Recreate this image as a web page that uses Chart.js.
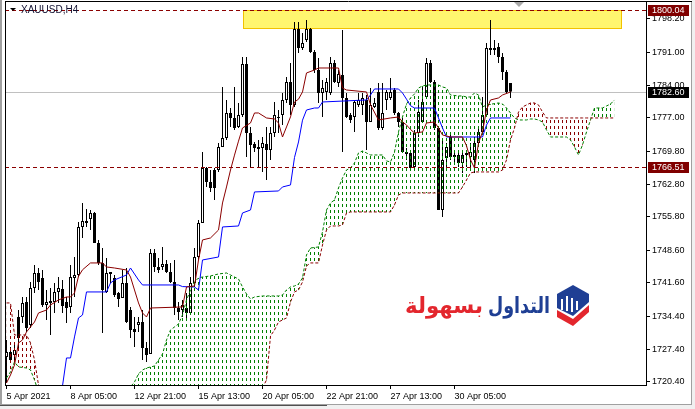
<!DOCTYPE html>
<html lang="en">
<head>
<meta charset="UTF-8">
<title>XAUUSD,H4</title>
<script src="https://cdn.jsdelivr.net/npm/chart.js"></script>
<style>
  html, body { margin: 0; padding: 0; background: #fff; }
  canvas { display: block; }
</style>
</head>
<body>
<canvas id="chart" width="695" height="409" style="width:695px;height:409px"></canvas>
<script>
// time axis: bar index of each label
const timeTickBars = [0, 16, 32, 48, 64, 80, 96, 112];
const timeLabels = ['5 Apr 2021', '8 Apr 05:00', '12 Apr 21:00', '15 Apr 13:00',
                    '20 Apr 05:00', '22 Apr 21:00', '27 Apr 13:00', '30 Apr 05:00'];
const priceTicks = [1798.20, 1791.00, 1784.00, 1777.00, 1769.80, 1762.80,
                    1755.80, 1748.60, 1741.60, 1734.40, 1727.40, 1720.40];
const yMin = 1719.69, yMax = 1802.06;

// H4 candles
const open = [
  1725.70, 1726.78, 1726.13, 1734.28, 1734.28, 1737.50, 1732.57, 1740.50, 1743.72, 1742.65,
  1736.86, 1737.72, 1737.50, 1739.65, 1740.29, 1737.50, 1736.43, 1742.65, 1743.29, 1753.59,
  1754.88, 1755.30, 1756.59, 1750.16, 1745.87, 1739.65, 1743.51, 1742.65, 1739.43, 1738.36,
  1741.58, 1735.78, 1731.71, 1732.57, 1733.21, 1727.63, 1726.35, 1748.01, 1745.01, 1745.01,
  1745.65, 1743.94, 1741.79, 1736.21, 1735.78, 1736.21, 1735.14, 1741.58, 1747.15, 1754.45,
  1766.24, 1763.24, 1765.81, 1765.81, 1770.75, 1772.68, 1778.04, 1776.97, 1775.04, 1777.61,
  1788.55, 1773.75, 1771.39, 1770.75, 1770.53, 1771.39, 1770.10, 1773.75, 1776.97, 1777.61,
  1780.83, 1784.69, 1779.76, 1796.06, 1791.98, 1793.70, 1796.06, 1791.13, 1787.26, 1782.33,
  1782.55, 1782.33, 1788.77, 1784.48, 1786.19, 1781.26, 1777.61, 1777.18, 1779.76, 1779.76,
  1780.83, 1776.11, 1779.33, 1782.55, 1774.82, 1780.83, 1781.26, 1782.97, 1778.04, 1776.11,
  1769.68, 1769.46, 1766.46, 1773.75, 1776.11, 1781.47, 1788.77, 1784.69, 1774.82, 1757.23,
  1768.39, 1772.89, 1769.03, 1769.03, 1767.32, 1769.03, 1768.60, 1767.96, 1771.61, 1773.97,
  1777.61, 1791.98, 1791.55, 1792.20, 1790.05, 1786.84, 1784.48
];
const high = [
  1729.35, 1727.85, 1728.28, 1735.78, 1738.57, 1738.57, 1741.79, 1745.44, 1744.79, 1744.36,
  1740.07, 1740.50, 1741.58, 1742.86, 1742.22, 1738.57, 1745.44, 1747.15, 1754.66, 1758.74,
  1757.45, 1757.23, 1756.81, 1750.80, 1749.08, 1746.94, 1743.94, 1743.29, 1739.65, 1744.36,
  1744.79, 1736.43, 1734.28, 1734.28, 1735.78, 1728.92, 1748.87, 1748.87, 1746.94, 1749.30,
  1746.51, 1745.87, 1746.51, 1737.50, 1737.93, 1739.43, 1742.86, 1749.08, 1755.09, 1769.68,
  1766.46, 1765.81, 1766.24, 1771.61, 1783.62, 1780.83, 1779.11, 1783.62, 1780.19, 1790.05,
  1790.05, 1775.04, 1771.82, 1772.25, 1772.89, 1775.04, 1775.04, 1780.40, 1778.68, 1782.33,
  1785.76, 1788.77, 1797.56, 1797.56, 1795.20, 1797.99, 1796.27, 1791.55, 1789.84, 1785.12,
  1785.55, 1790.05, 1789.41, 1787.26, 1795.84, 1782.33, 1778.04, 1780.83, 1782.33, 1782.33,
  1781.90, 1783.40, 1781.26, 1784.48, 1784.48, 1782.97, 1785.55, 1783.40, 1778.26, 1776.97,
  1770.53, 1770.10, 1774.39, 1780.83, 1783.62, 1789.84, 1789.41, 1785.12, 1775.04, 1772.25,
  1771.61, 1773.75, 1769.68, 1769.68, 1769.68, 1770.10, 1771.61, 1772.89, 1775.04, 1781.47,
  1793.06, 1797.99, 1793.70, 1793.06, 1790.91, 1787.26, 1784.48
];
const low = [
  1720.13, 1724.42, 1725.06, 1727.20, 1733.00, 1731.07, 1731.92, 1739.43, 1740.07, 1736.43,
  1733.64, 1730.42, 1735.14, 1737.29, 1735.14, 1733.00, 1735.14, 1738.57, 1742.86, 1751.23,
  1753.59, 1752.94, 1750.16, 1745.44, 1730.85, 1739.43, 1741.58, 1738.57, 1736.43, 1738.36,
  1733.00, 1729.78, 1727.85, 1731.07, 1725.06, 1724.63, 1726.35, 1743.94, 1743.72, 1744.36,
  1743.72, 1741.58, 1734.71, 1733.64, 1734.28, 1733.64, 1735.14, 1740.72, 1746.51, 1754.45,
  1762.17, 1761.10, 1759.38, 1765.39, 1770.75, 1772.25, 1775.04, 1774.39, 1774.82, 1777.18,
  1768.60, 1766.46, 1769.68, 1766.46, 1765.39, 1763.67, 1767.96, 1772.89, 1773.75, 1775.47,
  1780.19, 1777.61, 1779.33, 1790.91, 1791.55, 1793.27, 1790.91, 1786.62, 1780.19, 1777.18,
  1780.83, 1781.90, 1784.48, 1783.62, 1769.68, 1776.97, 1775.90, 1773.97, 1779.33, 1777.61,
  1770.10, 1776.11, 1779.11, 1774.39, 1774.39, 1778.68, 1780.83, 1777.61, 1775.04, 1769.46,
  1767.96, 1766.24, 1766.24, 1772.89, 1775.90, 1781.26, 1784.48, 1774.39, 1757.23, 1755.73,
  1766.24, 1767.96, 1767.32, 1766.46, 1765.17, 1766.46, 1766.24, 1765.17, 1770.75, 1773.75,
  1777.18, 1790.48, 1790.48, 1788.77, 1785.12, 1782.33, 1781.26
];
const close = [
  1726.78, 1725.06, 1727.20, 1729.78, 1737.29, 1731.92, 1740.50, 1743.72, 1741.79, 1736.86,
  1737.50, 1737.29, 1739.65, 1740.50, 1736.64, 1736.21, 1742.86, 1743.29, 1753.59, 1754.88,
  1754.45, 1756.59, 1750.16, 1745.87, 1740.07, 1743.72, 1743.94, 1739.00, 1738.14, 1741.58,
  1733.21, 1731.49, 1731.07, 1733.21, 1727.63, 1726.13, 1748.01, 1745.01, 1744.36, 1745.65,
  1743.94, 1741.79, 1736.21, 1735.36, 1736.86, 1735.14, 1741.58, 1747.15, 1754.45, 1766.24,
  1763.24, 1761.95, 1761.95, 1770.75, 1772.68, 1778.04, 1776.97, 1774.82, 1777.61, 1788.55,
  1773.75, 1771.18, 1770.53, 1770.32, 1771.61, 1770.10, 1773.75, 1777.61, 1777.18, 1780.83,
  1784.69, 1779.76, 1796.06, 1791.98, 1793.06, 1796.06, 1791.13, 1787.26, 1782.33, 1783.40,
  1784.69, 1788.77, 1784.69, 1786.41, 1781.26, 1777.18, 1776.54, 1780.40, 1780.83, 1781.26,
  1776.11, 1779.76, 1780.19, 1774.82, 1778.04, 1782.55, 1782.55, 1778.04, 1776.11, 1769.68,
  1769.25, 1766.24, 1773.75, 1778.26, 1780.40, 1788.77, 1784.69, 1774.82, 1757.23, 1767.96,
  1770.75, 1768.60, 1768.60, 1767.32, 1769.03, 1769.46, 1769.68, 1771.61, 1773.97, 1777.61,
  1791.98, 1791.55, 1791.98, 1790.05, 1786.84, 1782.55, 1782.60
];

// Ichimoku: tenkan-sen (dark red) and kijun-sen (blue)
const tenkanBars = [0,1,2,3,4,5,7,8,10,11,13,15,16,17,18,19,21,24,25,27,30,31,32,33,34,35,36,44,45,47,48,49,51,53,54,55,56,57,58,59,61,62,63,65,67,68,69,70,71,72,73,74,75,77,78,83,84,85,90,91,93,96,98,99,100,101,102,104,105,107,108,109,111,114,115,116,117,118,119,120,121,123,124,126];
const tenkan = [1720.13,1721.84,1723.99,1728.71,1729.35,1731.07,1733.21,1735.14,1735.78,1736.86,1737.93,1738.57,1738.57,1739.43,1743.00,1744.40,1745.87,1745.87,1745.01,1744.79,1744.36,1742.86,1740.07,1737.29,1735.14,1734.28,1736.21,1736.43,1740.72,1740.93,1746.50,1750.80,1751.23,1752.94,1758.74,1762.17,1765.81,1769.00,1772.00,1774.82,1775.90,1778.04,1778.04,1776.97,1776.75,1775.90,1772.89,1775.04,1777.20,1780.40,1781.00,1782.55,1786.62,1787.26,1787.69,1787.69,1783.40,1782.97,1782.55,1779.80,1776.54,1776.97,1777.18,1776.11,1775.47,1774.50,1773.75,1773.97,1775.90,1776.11,1774.82,1773.32,1772.89,1772.89,1771.00,1768.00,1766.24,1771.61,1773.97,1778.68,1780.83,1781.26,1781.90,1782.55];
const kijunBars = [13,14,15,16,17,18,19,20,25,26,27,30,31,32,33,34,43,44,47,48,49,53,54,58,59,61,62,68,69,71,72,73,74,75,77,78,79,90,91,92,98,99,100,101,102,107,108,109,110,119,120,121,126];
const kijun = [1717.00,1719.50,1725.49,1725.49,1730.00,1734.07,1734.71,1739.65,1739.65,1741.58,1742.22,1743.29,1744.79,1743.50,1742.22,1741.15,1741.15,1740.80,1740.72,1740.07,1746.51,1747.15,1753.59,1753.80,1756.59,1757.23,1761.10,1761.31,1762.17,1762.60,1768.50,1771.82,1776.50,1778.68,1779.11,1779.11,1780.40,1780.83,1781.90,1783.19,1783.19,1782.33,1781.00,1779.60,1779.11,1779.11,1776.97,1774.82,1772.89,1772.89,1775.47,1776.97,1776.97];

// cloud (senkou span A / B), shifted 26 bars ahead
const cloudBars = [0,1,2,3,5,6,7,8,12,20,28,32,33,34,35,37,38,39,40,41,42,43,44,45,46,47,48,49,51,53,55,56,57,58,59,60,61,62,64,65,66,67,68,69,70,71,72,73,74,75,76,78,79,80,81,82,83,84,85,86,87,88,89,90,91,94,95,96,97,98,99,100,101,102,103,104,105,108,109,110,111,113,114,115,116,117,118,119,120,123,124,125,126,127,128,129,130,131,132,133,134,135,136,140,141,142,143,144,145,146,147,149,150,151,152];
const spanA = [1721.20,1722.49,1724.63,1723.56,1723.34,1722.91,1720.77,1718.20,
  1715.80,1714.60,1716.20,
  1720.34,1722.06,1722.91,1723.34,
  1723.77,1725.06,1726.35,1729.35,1731.49,1732.14,1732.78,1734.71,1737.93,1740.07,1741.79,1742.65,1742.86,
  1743.08,1743.51,1743.72,
  1743.29,1742.86,1742.43,1740.72,1739.22,1738.14,1738.57,
  1738.79,1738.79,1738.79,1738.79,1738.79,1739.00,1740.07,1740.72,1740.93,1741.36,1742.65,1747.58,1749.08,
  1749.30,1752.52,1757.23,1758.74,1759.38,1761.95,1764.10,1765.81,1766.24,1767.32,1769.46,1769.89,1769.46,1769.03,
  1769.03,1767.75,1767.53,1769.68,1773.97,1777.18,1779.97,1781.26,1782.12,1783.40,1783.83,1784.05,
  1784.05,1783.62,1783.40,1781.90,
  1781.69,1781.69,1781.47,1781.47,1782.33,1781.90,1779.33,1779.76,
  1780.19,1779.97,1779.11,1778.04,1776.97,1776.54,1776.54,1776.54,1776.75,1776.75,1776.54,1776.11,1774.39,1772.89,
  1772.89,1772.25,1770.75,1769.03,1771.18,1773.97,1776.54,1779.11,
  1779.11,1779.54,1779.97,1780.83];
const spanB = [1737.29,1737.29,1730.42,1730.42,1730.42,1728.71,1725.06,1719.70,
  1716.50,1715.00,1714.00,
  1713.50,1713.50,1713.50,1713.50,
  1713.50,1714.00,1714.00,1714.00,1714.00,1714.00,1714.00,1714.00,1714.00,1714.00,1714.00,1714.00,1714.00,
  1715.50,1715.50,1715.50,
  1715.50,1715.50,1715.50,1715.50,1715.50,1715.50,1715.50,
  1719.05,1720.77,1730.21,1731.49,1733.21,1733.64,1734.07,1737.50,1739.65,1740.07,1741.79,1745.22,1745.87,
  1745.87,1749.73,1752.94,1753.80,1753.80,1753.80,1754.02,1756.59,1756.81,1756.81,1756.81,1756.81,1756.81,1756.81,
  1756.81,1756.81,1756.81,1758.31,1760.45,1760.88,1760.88,1760.88,1760.88,1760.88,1760.88,1760.88,
  1760.88,1760.88,1760.88,1760.88,
  1760.88,1762.17,1763.67,1765.17,1765.39,1765.39,1765.39,1765.39,
  1765.39,1765.81,1767.96,1772.25,1774.82,1778.26,1779.33,1779.76,1780.19,1780.19,1779.76,1778.26,1776.97,1776.97,
  1776.97,1776.97,1776.97,1776.97,1776.97,1776.97,1776.97,1776.97,
  1776.97,1776.97,1776.97,1776.97];

// chart objects
const levels = [1800.04, 1766.51];
const bidPrice = 1782.60;
const zoneBars = [59, 153.5];
const zonePrices = [1800.04, 1796.27];

const barIndex = Array.from({ length: 160 }, (_, i) => i);
const ctx = document.getElementById('chart').getContext('2d');
const FONT = '"Liberation Sans", Arial, sans-serif';

// MT4 style dotted hatch, one column per bar
const hatch = (color) => {
    const tile = document.createElement('canvas');
    tile.width = 4; tile.height = 6;
    const g = tile.getContext('2d');
    g.fillStyle = color;
    g.fillRect(2, 0, 1, 3);
    return ctx.createPattern(tile, 'repeat');
};
const pts = (xs, ys) => xs.map((b, i) => ({ x: b, y: ys[i] }));

const fitText = (c, text, right, base, width, color) => {
    c.save();
    c.font = 'bold 22px "DejaVu Sans", sans-serif';
    c.direction = 'rtl';
    c.textAlign = 'right';
    c.textBaseline = 'alphabetic';
    const w = c.measureText(text).width || width;
    c.translate(right, base);
    c.scale(width / w, 1);
    c.fillStyle = color;
    c.fillText(text, 0, 0);
    c.restore();
};

const priceBox = (c, yPix, x0, text, bg) => {
    const y = Math.round(yPix);
    c.fillStyle = bg;
    c.fillRect(x0 + 2, y - 5, 41, 11);
    c.fillStyle = '#fff';
    c.font = '9px ' + FONT;
    c.textAlign = 'left';
    c.textBaseline = 'middle';
    c.fillText(text, x0 + 6, y + 0.5);
};

const decor = {
    id: 'decor',
    beforeDraw(chart) {
        const c = chart.ctx;
        c.save();
        c.fillStyle = '#fff';
        c.fillRect(0, 0, chart.width, chart.height);
        c.restore();
    },
    beforeDatasetsDraw(chart) {
        const { ctx: c, chartArea: a, scales: { x, y } } = chart;
        c.save();
        c.beginPath();
        c.rect(a.left, a.top, a.right - a.left, a.bottom - a.top);
        c.clip();
        // rectangle zone
        const x1 = Math.round(x.getPixelForValue(zoneBars[0])) + 0.5;
        const x2 = Math.round(x.getPixelForValue(zoneBars[1])) + 0.5;
        const y1 = Math.round(y.getPixelForValue(zonePrices[0])) + 0.5;
        const y2 = Math.round(y.getPixelForValue(zonePrices[1])) + 0.5;
        c.fillStyle = '#fff66f';
        c.fillRect(x1, y1, x2 - x1, y2 - y1);
        c.strokeStyle = '#f2c200';
        c.lineWidth = 1;
        c.strokeRect(x1, y1, x2 - x1, y2 - y1);
        // bid line
        const yb = Math.round(y.getPixelForValue(bidPrice)) + 0.5;
        c.strokeStyle = '#c0c0c0';
        c.beginPath();
        c.moveTo(a.left, yb);
        c.lineTo(a.right, yb);
        c.stroke();
        c.restore();
    },
    afterDatasetsDraw(chart) {
        const { ctx: c, chartArea: a, scales: { y } } = chart;
        c.save();
        c.strokeStyle = '#8b0000';
        c.lineWidth = 1;
        c.setLineDash([4, 3]);
        levels.forEach(v => {
            const yy = Math.round(y.getPixelForValue(v)) + 0.5;
            c.beginPath();
            c.moveTo(a.left, yy);
            c.lineTo(a.right, yy);
            c.stroke();
        });
        c.restore();
    },
    afterDraw(chart) {
        const { ctx: c, chartArea: a, scales: { x, y }, width: W, height: H } = chart;
        c.save();
        // window frame
        c.fillStyle = '#a0a0a0';
        c.fillRect(0, 0, 2, H);
        c.fillStyle = '#f0f0f0';
        c.fillRect(0, 405, W, H - 405);
        c.fillRect(692, 0, W - 692, 405);
        c.strokeStyle = '#a0a0a0';
        c.lineWidth = 1;
        c.beginPath();
        c.moveTo(0, 404.5); c.lineTo(692, 404.5);
        c.moveTo(691.5, 1); c.lineTo(691.5, 404.5);
        c.stroke();
        c.strokeStyle = '#505050';
        c.beginPath();
        c.moveTo(0, 405.5); c.lineTo(327, 405.5);
        c.stroke();
        // chart border
        c.strokeStyle = '#000';
        c.beginPath();
        c.moveTo(a.left + 0.5, a.top); c.lineTo(a.left + 0.5, a.bottom);
        c.moveTo(a.left, a.top + 0.5); c.lineTo(692, a.top + 0.5);
        c.stroke();

        // price tags on the axis
        priceBox(c, y.getPixelForValue(levels[0]), a.right, levels[0].toFixed(2), '#800000');
        priceBox(c, y.getPixelForValue(levels[1]), a.right, levels[1].toFixed(2), '#800000');
        priceBox(c, y.getPixelForValue(bidPrice), a.right, bidPrice.toFixed(2), '#000');

        // chart shift marker
        const sx = Math.round(x.getPixelForValue(open.length + 1));
        c.fillStyle = '#a8a8a8';
        c.beginPath();
        c.moveTo(sx - 5, 2); c.lineTo(sx + 5, 2); c.lineTo(sx, 7); c.closePath();
        c.fill();

        // title
        c.fillStyle = '#000';
        c.beginPath();
        c.moveTo(10, 8); c.lineTo(16, 8); c.lineTo(13, 11); c.closePath();
        c.fill();
        c.font = '10px ' + FONT;
        c.textAlign = 'left';
        c.textBaseline = 'middle';
        c.fillStyle = '#101030';
        c.fillText('XAUUSD,H4', 21, 10);

        // watermark logo
        c.fillStyle = '#1f3f94';
        c.beginPath();
        c.moveTo(573, 285); c.lineTo(589, 294); c.lineTo(589, 302);
        c.lineTo(573, 316); c.lineTo(557, 308); c.lineTo(557, 294);
        c.closePath();
        c.fill();
        c.fillStyle = '#fff';
        c.fillRect(561, 299, 2, 11);
        c.fillRect(566, 296, 2, 15);
        c.fillRect(571, 298, 2, 14);
        c.fillRect(576, 301, 2, 9);
        c.fillStyle = '#e3262d';
        c.beginPath();
        c.moveTo(557, 310); c.lineTo(573, 319); c.lineTo(589, 305);
        c.lineTo(589, 312); c.lineTo(573, 326); c.lineTo(557, 317);
        c.closePath();
        c.fill();
        fitText(c, 'التداول', 550, 313, 62, '#1f3f94');
        fitText(c, 'بسهولة', 483, 313, 78, '#e3262d');
        c.restore();
    }
};

new Chart(ctx, {
    type: 'bar',
    data: {
        labels: barIndex,
        datasets: [
            {
                type: 'line', label: 'Senkou B', data: pts(cloudBars, spanB),
                borderColor: '#8b0000', borderWidth: 1, borderDash: [3, 2],
                pointRadius: 0, tension: 0, fill: false, order: 2
            },
            {
                type: 'line', label: 'Senkou A', data: pts(cloudBars, spanA),
                borderColor: '#008000', borderWidth: 1, borderDash: [3, 2],
                pointRadius: 0, tension: 0, order: 2,
                fill: { target: 0, above: hatch('#008000'), below: hatch('#8b0000') }
            },
            {
                type: 'line', label: 'Tenkan', data: pts(tenkanBars, tenkan),
                borderColor: '#8b0000', borderWidth: 1, pointRadius: 0, tension: 0, fill: false, order: 1
            },
            {
                type: 'line', label: 'Kijun', data: pts(kijunBars, kijun),
                borderColor: '#0000ff', borderWidth: 1, pointRadius: 0, tension: 0, fill: false, order: 1
            },
            {
                label: 'Body', data: open.map((o, i) => [o, close[i]]),
                backgroundColor: open.map((o, i) => close[i] >= o ? '#ffffff' : '#000000'),
                borderColor: '#000', borderWidth: 1, borderSkipped: false,
                barThickness: 3, grouped: false, minBarLength: 1, inflateAmount: 0, order: 3
            },
            {
                label: 'Wick', data: low.map((l, i) => [l, high[i]]),
                backgroundColor: '#000', borderWidth: 0,
                barThickness: 1, grouped: false, inflateAmount: 0, order: 4
            }
        ]
    },
    options: {
        responsive: false,
        animation: false,
        events: [],
        layout: { padding: { left: 5, top: 1, right: 0, bottom: 0 } },
        plugins: { legend: { display: false }, tooltip: { enabled: false } },
        scales: {
            x: {
                type: 'linear', min: -0.375, max: 159.875, offset: false,
                afterBuildTicks: (s) => { s.ticks = timeTickBars.map(v => ({ value: v })); },
                afterFit: (s) => { s.height = 24; s.paddingLeft = 0; s.paddingRight = 0; },
                grid: { drawOnChartArea: false, offset: false, tickLength: 4, color: '#000' },
                border: { color: '#000' },
                ticks: {
                    align: 'start', maxRotation: 0, autoSkip: false, padding: 2, color: '#000',
                    font: { family: FONT, size: 9 },
                    callback: (v, i) => timeLabels[i]
                }
            },
            y: {
                position: 'right', min: yMin, max: yMax,
                afterBuildTicks: (s) => { s.ticks = priceTicks.map(v => ({ value: v })); },
                afterFit: (s) => { s.width = 49; s.paddingTop = 0; s.paddingBottom = 0; },
                grid: { drawOnChartArea: false, tickLength: 4, color: '#000' },
                border: { color: '#000' },
                ticks: {
                    padding: 2, color: '#000',
                    font: { family: FONT, size: 9 },
                    callback: (v) => Number(v).toFixed(2)
                }
            }
        }
    },
    plugins: [decor]
});
</script>
</body>
</html>
